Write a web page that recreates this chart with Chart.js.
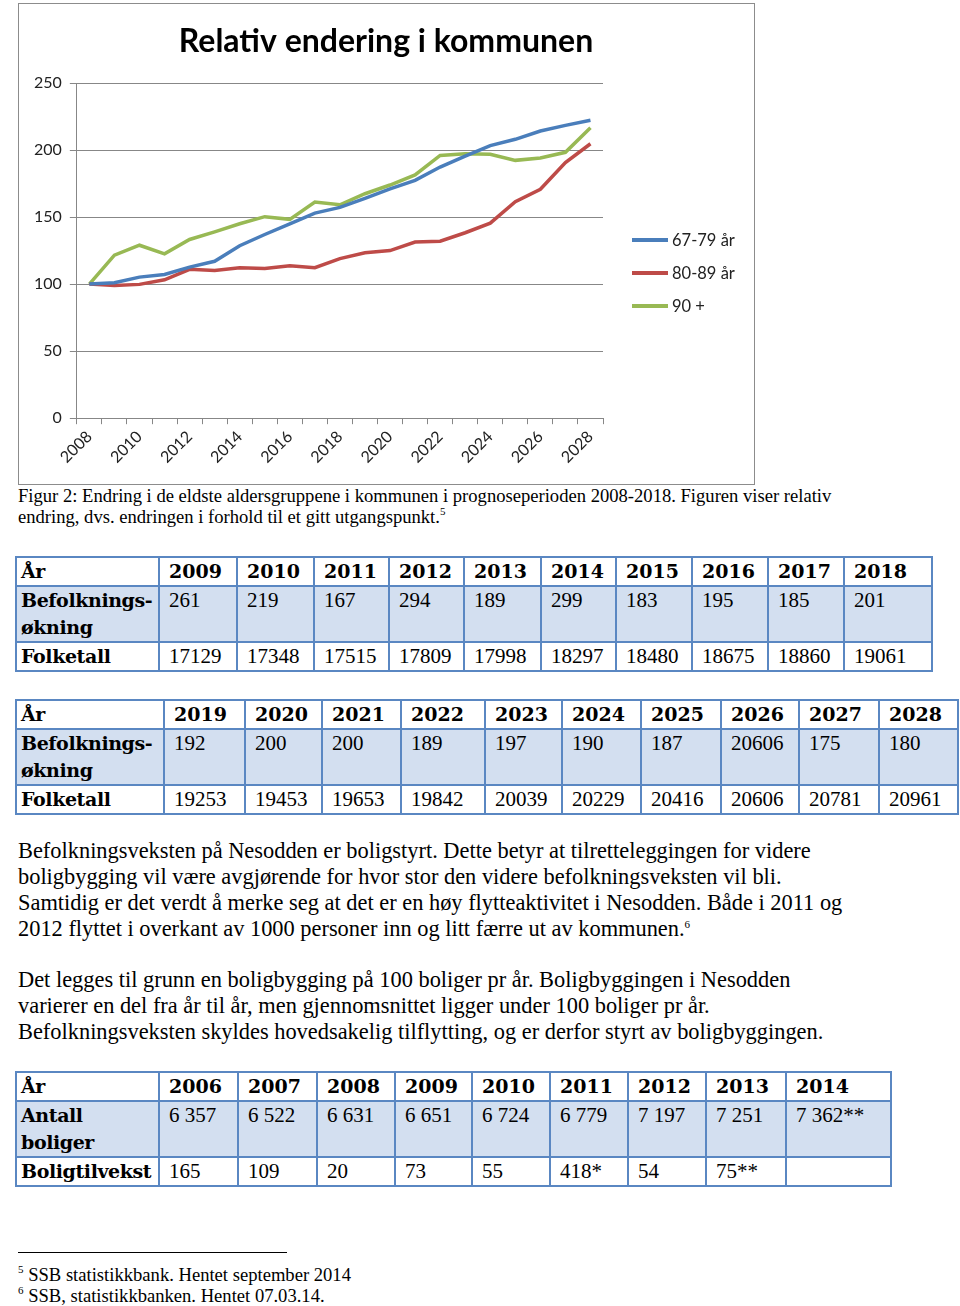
<!DOCTYPE html>
<html>
<head>
<meta charset="utf-8">
<script src="https://cdn.jsdelivr.net/npm/chart.js@4.4.0/dist/chart.umd.min.js"></script>
<style>
  body { margin: 0; width: 960px; height: 1306px; background: #fff; position: relative; overflow: hidden;
         font-family: "Liberation Serif", "Times New Roman", serif; color: #000; }
  #chartBox { position: absolute; left: 18px; top: 3px; width: 737px; height: 482px;
              border: 1px solid #8c8c8c; box-sizing: border-box; }
  #chartBox canvas { display: block; }
  .line { position: absolute; left: 18px; white-space: nowrap; }
  .cap { font-size: 18.6px; }
  .par { font-size: 22.4px; }
  .fn { font-size: 18.6px; }
  sup { font-size: 11px; vertical-align: 8px; line-height: 0; }
  table { position: absolute; left: 15px; border-collapse: collapse; table-layout: fixed; }
  td { border: 2px solid #5a87c2; padding: 0 0 0 9px; vertical-align: top; white-space: nowrap;
       font-size: 21px; line-height: 27px; overflow: hidden; }
  td.h { font-family: "DejaVu Serif", serif; font-weight: bold; font-size: 19px; padding-left: 4px; letter-spacing: -0.4px; }
  tr.hd td { font-family: "DejaVu Serif", serif; font-weight: bold; font-size: 19px; height: 26px; }
  tr.mid td { background: #d3dff0; height: 52px; }
  tr.bot td { height: 25px; }
</style>
</head>
<body>
<div id="chartBox"><canvas id="relChart" width="735" height="480"></canvas></div>

<div class="line cap" style="top:485px">Figur 2: Endring i de eldste aldersgruppene i kommunen i prognoseperioden 2008-2018. Figuren viser relativ</div>
<div class="line cap" style="top:506px">endring, dvs. endringen i forhold til et gitt utgangspunkt.<sup>5</sup></div>

<table id="t1" style="top:556px"></table>
<table id="t2" style="top:699px"></table>
<table id="t3" style="top:1071px"></table>

<div class="line par" style="top:838px">Befolkningsveksten på Nesodden er boligstyrt. Dette betyr at tilretteleggingen for videre</div>
<div class="line par" style="top:864px">boligbygging vil være avgjørende for hvor stor den videre befolkningsveksten vil bli.</div>
<div class="line par" style="top:890px">Samtidig er det verdt å merke seg at det er en høy flytteaktivitet i Nesodden. Både i 2011 og</div>
<div class="line par" style="top:916px">2012 flyttet i overkant av 1000 personer inn og litt færre ut av kommunen.<sup>6</sup></div>

<div class="line par" style="top:967px">Det legges til grunn en boligbygging på 100 boliger pr år. Boligbyggingen i Nesodden</div>
<div class="line par" style="top:993px">varierer en del fra år til år, men gjennomsnittet ligger under 100 boliger pr år.</div>
<div class="line par" style="top:1019px">Befolkningsveksten skyldes hovedsakelig tilflytting, og er derfor styrt av boligbyggingen.</div>

<div style="position:absolute; left:18px; top:1252px; width:269px; border-top:1px solid #000;"></div>
<div class="line fn" style="top:1264px"><sup>5</sup> SSB statistikkbank. Hentet september 2014</div>
<div class="line fn" style="top:1285px"><sup>6</sup> SSB, statistikkbanken. Hentet 07.03.14.</div>

<script>
// chart data (index 100 = 2008)
const chartTitle = 'Relativ endering i kommunen';
const years = ['2008', '2009', '2010', '2011', '2012', '2013', '2014', '2015', '2016', '2017', '2018',
               '2019', '2020', '2021', '2022', '2023', '2024', '2025', '2026', '2027', '2028'];
const age6779 = [100, 101, 105.2, 107.2, 112.7, 117, 128.6, 137, 145, 153, 157.2,
                 164, 171, 177.4, 187.3, 195.5, 203.3, 208, 214.2, 218.4, 222.2];
const age8089 = [100, 99, 99.8, 103.2, 111, 110.2, 112.2, 111.7, 113.7, 112.2, 119,
                 123.4, 125, 131.4, 132, 138.3, 145.5, 161.5, 170.7, 190.6, 204.7];
const age90 = [100, 121.6, 129, 122.6, 133.3, 139, 145, 150.3, 148.3, 161.2, 159.2,
               167.4, 173.9, 181.4, 196, 197.3, 196.8, 192.3, 194, 198.3, 216.7];

// tables
const t1Years = ['2009', '2010', '2011', '2012', '2013', '2014', '2015', '2016', '2017', '2018'];
const t1Growth = ['261', '219', '167', '294', '189', '299', '183', '195', '185', '201'];
const t1Pop = ['17129', '17348', '17515', '17809', '17998', '18297', '18480', '18675', '18860', '19061'];
const t2Years = ['2019', '2020', '2021', '2022', '2023', '2024', '2025', '2026', '2027', '2028'];
const t2Growth = ['192', '200', '200', '189', '197', '190', '187', '20606', '175', '180'];
const t2Pop = ['19253', '19453', '19653', '19842', '20039', '20229', '20416', '20606', '20781', '20961'];
const t3Years = ['2006', '2007', '2008', '2009', '2010', '2011', '2012', '2013', '2014'];
const t3Homes = ['6 357', '6 522', '6 631', '6 651', '6 724', '6 779', '7 197', '7 251', '7 362**'];
const t3Growth = ['165', '109', '20', '73', '55', '418*', '54', '75**', ''];

document.addEventListener('DOMContentLoaded', () => {
    buildTable('t1', [143, 78, 77, 75, 75, 77, 75, 76, 76, 76, 88],
        ['År', 'Befolknings-<br>økning', 'Folketall'], [t1Years, t1Growth, t1Pop]);
    buildTable('t2', [148, 81, 77, 79, 84, 77, 79, 80, 78, 80, 79],
        ['År', 'Befolknings-<br>økning', 'Folketall'], [t2Years, t2Growth, t2Pop]);
    buildTable('t3', [143, 79, 79, 78, 77, 78, 78, 78, 80, 105],
        ['År', 'Antall<br>boliger', 'Boligtilvekst'], [t3Years, t3Homes, t3Growth]);
    relChart();
});

function buildTable(id, widths, heads, rows) {
    const table = document.getElementById(id);
    const total = widths.reduce((a, b) => a + b, 0);
    table.style.width = total + 'px';
    let html = '<colgroup>' + widths.map(w => `<col style="width:${w}px">`).join('') + '</colgroup>';
    const cls = ['hd', 'mid', 'bot'];
    rows.forEach((row, i) => {
        html += `<tr class="${cls[i]}"><td class="h">${heads[i]}</td>`;
        row.forEach(v => { html += `<td>${v}</td>`; });
        html += '</tr>';
    });
    table.innerHTML = html;
}

// title and a right-hand legend in the Excel style
const decor = {
    id: 'decor',
    afterDraw(chart) {
        const c = chart.ctx;
        const font = 'Lato, "Open Sans", sans-serif';
        c.save();
        c.fillStyle = '#000';
        c.font = `bold 32px ${font}`;
        c.textAlign = 'center';
        c.textBaseline = 'middle';
        c.fillText(chartTitle, 367, 38);

        const x0 = chart.chartArea.right + 29;
        chart.data.datasets.forEach((ds, i) => {
            const y = 236 + i * 33;
            c.strokeStyle = ds.borderColor;
            c.lineWidth = 4;
            c.beginPath();
            c.moveTo(x0, y);
            c.lineTo(x0 + 36, y);
            c.stroke();
            c.fillStyle = '#222';
            c.font = `16.5px ${font}`;
            c.textAlign = 'left';
            c.fillText(ds.label, x0 + 40, y + 1);
        });
        c.restore();
    }
};

function relChart() {
    const ctx = document.getElementById('relChart');
    const axisFont = { family: 'Lato, "Open Sans", sans-serif', size: 16 };

    new Chart(ctx, {
        type: 'line',
        data: {
            labels: years,
            datasets: [
                { label: '67-79 år', data: age6779, borderColor: '#4a7ebb', backgroundColor: '#4a7ebb' },
                { label: '80-89 år', data: age8089, borderColor: '#be4b48', backgroundColor: '#be4b48' },
                { label: '90 +', data: age90, borderColor: '#98b954', backgroundColor: '#98b954' }
            ]
        },
        options: {
            responsive: false,
            animation: false,
            elements: {
                line: { borderWidth: 3.5, tension: 0 },
                point: { radius: 0 }
            },
            layout: { padding: { left: 7, right: 151, bottom: 14, top: 79 } },
            plugins: {
                legend: { display: false },
                tooltip: { enabled: false }
            },
            scales: {
                x: {
                    offset: true,
                    grid: { offset: true, drawOnChartArea: false, color: '#878787', tickLength: 6 },
                    border: { color: '#878787' },
                    ticks: {
                        autoSkip: false,
                        minRotation: 45,
                        maxRotation: 45,
                        color: '#222',
                        font: axisFont,
                        callback: function (val, i) { return i % 2 === 0 ? this.getLabelForValue(val) : ''; }
                    }
                },
                y: {
                    min: 0,
                    max: 250,
                    grid: { color: '#878787', tickLength: 7 },
                    border: { color: '#878787' },
                    ticks: { stepSize: 50, color: '#222', font: axisFont, padding: 8 }
                }
            }
        },
        plugins: [decor]
    });
}
</script>
</body>
</html>
